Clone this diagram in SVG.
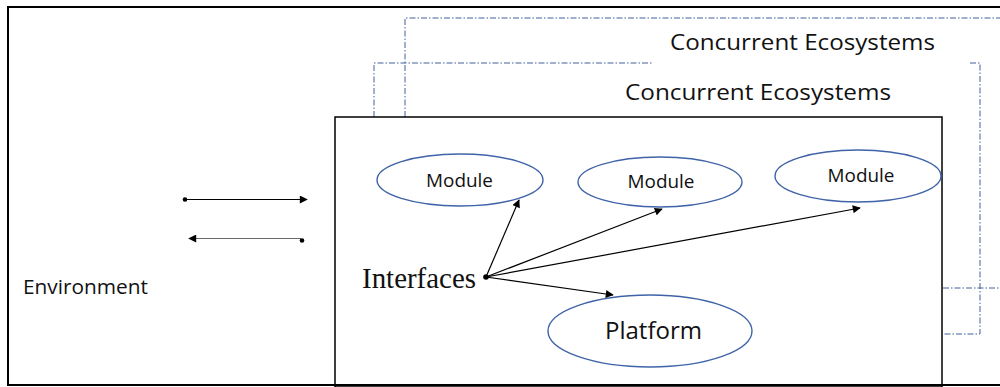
<svg xmlns="http://www.w3.org/2000/svg" width="1000" height="387" viewBox="0 0 1000 387">
  <style>
    .frame { fill: none; stroke: #000; stroke-width: 2; }
    .box { fill: #fff; stroke: #000; stroke-width: 1.5; }
    .eco { fill: none; stroke: #41609a; stroke-width: 1; stroke-dasharray: 6 2 1.5 2; }
    .oval { fill: #fff; stroke: #3f63a8; stroke-width: 1.4; }
    .sans { font-family: "Open Sans", "Liberation Sans", sans-serif; fill: #111; }
    .serif { font-family: "Liberation Serif", "Times New Roman", serif; fill: #111; }
    .link { fill: none; stroke: #000; stroke-width: 1.2; }
    .dot { fill: #000; }
  </style>
  <defs>
    <marker id="head" viewBox="0 0 10 10" refX="9" refY="5" markerWidth="9" markerHeight="8" markerUnits="userSpaceOnUse" orient="auto">
      <path d="M0,0 L10,5 L0,10 Z" fill="#000"/>
    </marker>
  </defs>

  <rect width="1000" height="387" fill="#fff"/>

  <!-- rear concurrent ecosystem -->
  <g id="ecosystem-back">
    <path class="eco" d="M405,117 V18 H1000"/>
    <path class="eco" d="M943,288 H1000"/>
    <text class="sans" x="670" y="50" font-size="21" textLength="265" lengthAdjust="spacingAndGlyphs">Concurrent Ecosystems</text>
  </g>

  <!-- front concurrent ecosystem -->
  <g id="ecosystem-front">
    <path class="eco" d="M374,117 V63 H652"/>
    <path class="eco" d="M970,63 H980 V334 H943"/>
    <text class="sans" x="625" y="100" font-size="21" textLength="266" lengthAdjust="spacingAndGlyphs">Concurrent Ecosystems</text>
  </g>

  <!-- focal ecosystem box -->
  <g id="ecosystem">
    <rect class="box" x="335" y="117" width="607" height="270"/>
  </g>

  <!-- outer environment frame -->
  <g id="environment">
    <rect class="frame" x="8" y="7" width="1000" height="378"/>
    <text class="sans" x="23" y="294" font-size="20.5" textLength="125" lengthAdjust="spacingAndGlyphs">Environment</text>
  </g>

  <g id="module-1">
    <ellipse class="oval" cx="460" cy="180" rx="83" ry="26"/>
    <text class="sans" x="459.5" y="187" font-size="18.5" text-anchor="middle" textLength="67" lengthAdjust="spacingAndGlyphs">Module</text>
  </g>
  <g id="module-2">
    <ellipse class="oval" cx="660" cy="182" rx="82" ry="25"/>
    <text class="sans" x="661" y="188" font-size="18.5" text-anchor="middle" textLength="67" lengthAdjust="spacingAndGlyphs">Module</text>
  </g>
  <g id="module-3">
    <ellipse class="oval" cx="858" cy="176" rx="83" ry="26"/>
    <text class="sans" x="861" y="182" font-size="18.5" text-anchor="middle" textLength="67" lengthAdjust="spacingAndGlyphs">Module</text>
  </g>
  <g id="platform">
    <ellipse class="oval" cx="650" cy="331" rx="102" ry="36"/>
    <text class="sans" x="653.5" y="339" font-size="24" text-anchor="middle" textLength="97" lengthAdjust="spacingAndGlyphs">Platform</text>
  </g>
  <g id="interfaces">
    <text class="serif" x="362" y="288" font-size="29" textLength="114" lengthAdjust="spacingAndGlyphs">Interfaces</text>
  </g>

  <!-- connectors -->
  <g id="connectors">
    <path class="link" d="M185,199.5 H307" marker-end="url(#head)"/>
    <circle class="dot" cx="185" cy="199.5" r="2.3"/>
    <path class="link" d="M301,238.5 H189" style="stroke:#6a6a6a" marker-end="url(#head)"/>
    <circle class="dot" cx="302" cy="240.5" r="2.3"/>

    <circle class="dot" cx="486" cy="277" r="2.8"/>
    <path class="link" d="M486,277 L519,200" marker-end="url(#head)"/>
    <path class="link" d="M486,277 L662,209" marker-end="url(#head)"/>
    <path class="link" d="M486,277 L860,208" marker-end="url(#head)"/>
    <path class="link" d="M486,277 L613,295" marker-end="url(#head)"/>
  </g>
</svg>
